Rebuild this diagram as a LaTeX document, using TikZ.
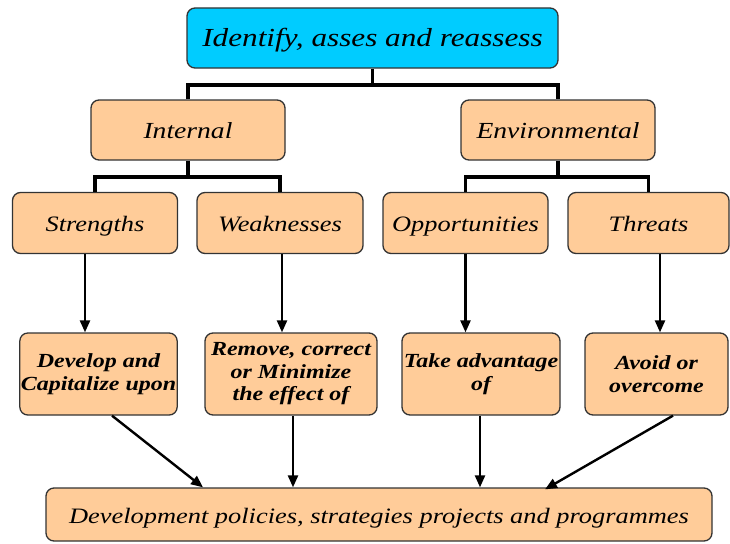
\documentclass[tikz,border=0pt]{standalone}
\usepackage{fontspec}
\setmainfont{Liberation Serif}
\newfontfamily\boxfont[FakeStretch=1.2]{Liberation Serif}
\usetikzlibrary{arrows.meta}
\definecolor{peach}{HTML}{FFCC99}
\definecolor{skyblue}{HTML}{00CCFF}
\definecolor{rim}{HTML}{333333}
\begin{document}
\begin{tikzpicture}[x=1pt, y=-1pt,
    box/.style={draw=rim, line width=1.3pt, rounded corners=8pt, fill=peach,
        align=center, inner sep=1pt, font=\boxfont\itshape\fontsize{22}{24}\selectfont},
    onebox/.style={box, text height=19pt, text depth=2pt},
    actbox/.style={box, minimum height=82pt, font=\boxfont\bfseries\itshape\fontsize{20}{22.5}\selectfont},
    tree/.style={line width=3.5pt},
    arr/.style={line width=2.4pt, -{Triangle[length=12pt,width=10pt]}}]
    \useasboundingbox (0,0) rectangle (730,543);
    % top of the tree
    \node[onebox, fill=skyblue, minimum width=371pt, minimum height=60pt,
        font=\boxfont\itshape\fontsize{26}{28}\selectfont] (top) at (372.5,38) {Identify, asses and reassess};
    \node[onebox, minimum width=194pt, minimum height=60pt, font=\boxfont\itshape\fontsize{23}{25}\selectfont] (int) at (188,130) {Internal};
    \node[onebox, minimum width=194pt, minimum height=60pt, font=\boxfont\itshape\fontsize{23}{25}\selectfont] (env) at (558,130) {Environmental};
    \coordinate (top_bar) at (372.5,85);
    \draw[tree] (top.south) -- (top_bar);
    \draw[tree] (int.north) |- (top_bar) -| (env.north);
    % swot boxes
    \node[onebox, minimum width=165pt, minimum height=61pt] (str) at (95,223) {Strengths};
    \node[onebox, minimum width=166pt, minimum height=61pt] (weak) at (280,223) {Weaknesses};
    \node[onebox, minimum width=165pt, minimum height=61pt] (opp) at (465.5,223) {Opportunities};
    \node[onebox, minimum width=161pt, minimum height=61pt] (thr) at (648.5,223) {Threats};
    \coordinate (int_bar) at (188,177);
    \coordinate (env_bar) at (558,177);
    \draw[tree] (int.south) -- (int_bar);
    \draw[tree] (env.south) -- (env_bar);
    \draw[tree] (str.north) |- (int_bar) -| (weak.north);
    \draw[tree] (opp.north) |- (env_bar) -| (thr.north);
    % what to do with each
    \node[actbox, minimum width=157pt] (dev) at (98.5,374) {Develop and\\Capitalize upon};
    \node[actbox, minimum width=172pt] (rem) at (291,374) {Remove, correct\\or Minimize\\the effect of};
    \node[actbox, minimum width=158pt] (take) at (481,374) {Take advantage\\of};
    \node[actbox, minimum width=143pt] (avoid) at (656.5,374) {Avoid or\\overcome};
    \draw[arr] ([xshift=-10pt]str.south) -- ([xshift=-10pt]str.south |- dev.north);
    \draw[arr] ([xshift=2pt]weak.south) -- ([xshift=2pt]weak.south |- rem.north);
    \draw[arr] (opp.south) -- (opp.south |- take.north);
    \draw[arr] ([xshift=11.5pt]thr.south) -- ([xshift=11.5pt]thr.south |- avoid.north);
    % bottom
    \node[onebox, minimum width=666pt, minimum height=53pt] (pol) at (379,514.5) {Development policies, strategies projects and programmes};
    \draw[arr] ([xshift=13.5pt]dev.south) -- ([xshift=-176pt]pol.north);
    \draw[arr] ([xshift=2pt]rem.south) -- ([xshift=2pt]rem.south |- pol.north);
    \draw[arr] ([xshift=-1pt]take.south) -- ([xshift=-1pt]take.south |- pol.north);
    \draw[arr] ([xshift=16.5pt]avoid.south) -- ([xshift=166pt,yshift=-2pt]pol.north);
\end{tikzpicture}
\end{document}
